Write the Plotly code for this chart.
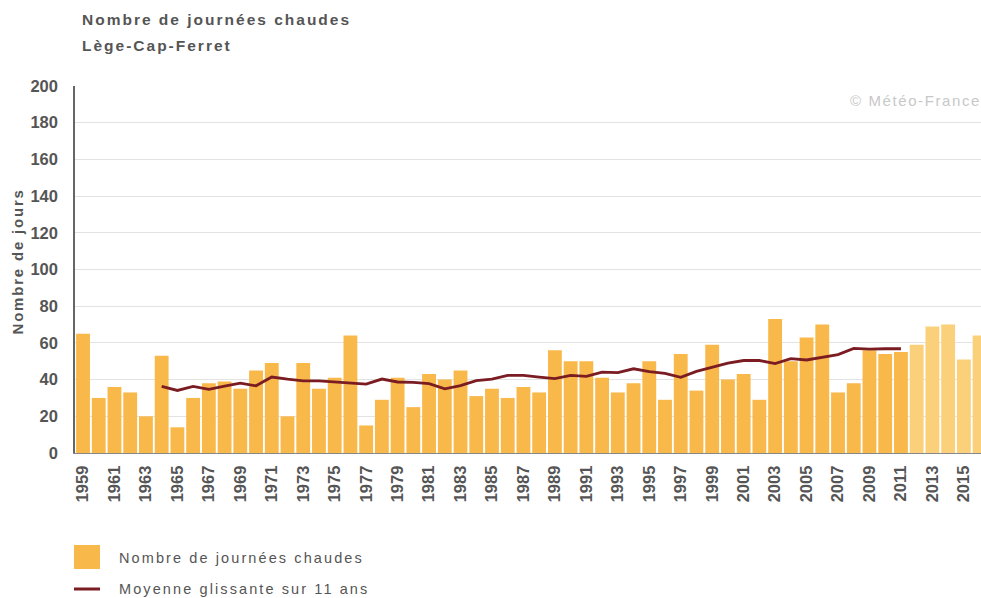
import plotly.graph_objects as go

years = list(range(1959, 2017))
hot_days = [65, 30, 36, 33, 20, 53, 14, 30, 38, 39,
            35, 45, 49, 20, 49, 35, 41, 64, 15, 29,
            41, 25, 43, 40, 45, 31, 35, 30, 36, 33,
            56, 50, 50, 41, 33, 38, 50, 29, 54, 34,
            59, 40, 43, 29, 73, 50, 63, 70, 33, 38,
            56, 54, 55, 59, 69, 70, 51, 64]
ma_years = list(range(1964, 2012))
ma_values = [36.3, 34.1, 36.3, 34.7, 36.5, 38.1, 36.6, 41.4, 40.2, 39.3,
             39.3, 38.8, 38.1, 37.5, 40.3, 38.7, 38.5, 37.8, 35.0, 36.7,
             39.4, 40.3, 42.3, 42.3, 41.4, 40.5, 42.3, 41.8, 44.1, 43.8,
             45.9, 44.3, 43.4, 41.2, 44.5, 46.6, 49.0, 50.4, 50.4, 48.7,
             51.4, 50.7, 52.3, 53.6, 57.0, 56.6, 56.8, 56.8]
last_ma_year = 2011
tick_years = years[::2]
y_ticks = list(range(0, 201, 20))

BAR = "#F9B84A"
BAR_LIGHT = "#FBD07A"
LINE = "#7A1C22"
TXT = "#555555"
FONT = "Liberation Sans, Arial, sans-serif"

colors = [BAR if y <= last_ma_year else BAR_LIGHT for y in years]

fig = go.Figure()
fig.add_trace(go.Bar(x=years, y=hot_days, marker=dict(color=colors, line=dict(width=0)),
                     name="Nombre de journées chaudes", showlegend=False))
fig.add_trace(go.Scatter(x=ma_years, y=ma_values, mode="lines",
                         line=dict(color=LINE, width=2.8), name="Moyenne glissante sur 11 ans",
                         showlegend=False))

W, H = 981, 598
L, R, T, B = 75, 0, 86, 145
pw, ph = W - L - R, H - T - B

def px(x):
    return (x - L) / pw

def py(y):
    return (H - B - y) / ph

def spaced(t, s):
    return '<span style="letter-spacing:%spx">%s</span>' % (s, t)

tick_font = dict(family=FONT, size=16.5, color=TXT, weight="bold")

fig.update_layout(
    width=W, height=H,
    margin=dict(l=L, r=R, t=T, b=B, pad=0),
    plot_bgcolor="white", paper_bgcolor="white",
    bargap=0.12,
    font=dict(family=FONT, color=TXT, size=13),
    xaxis=dict(range=[1958.49, 2016.09], tickmode="array", tickvals=tick_years,
               ticktext=[str(y) for y in tick_years], tickangle=-90,
               tickfont=tick_font,
               showgrid=False, showline=True, linecolor="#888888", linewidth=1,
               ticks="", ticklabelstandoff=5, zeroline=False),
    yaxis=dict(range=[0, 200], tickmode="array", tickvals=y_ticks,
               tickfont=tick_font,
               showgrid=True, gridcolor="#E3E3E3", gridwidth=1,
               showline=True, linecolor="#666666", linewidth=1.5,
               ticks="", ticklabelstandoff=12, zeroline=False),
)

left_annos = [
    dict(text="<b>" + spaced("Nombre de journées chaudes", 2.0) + "</b>", x=px(80), y=py(19),
         font=dict(family=FONT, size=15.5, color=TXT)),
    dict(text="<b>" + spaced("Lège-Cap-Ferret", 2.0) + "</b>", x=px(80), y=py(45),
         font=dict(family=FONT, size=15.5, color=TXT)),
    dict(text=spaced("Nombre de journées chaudes", 2.1), x=px(117), y=py(558),
         font=dict(family=FONT, size=14.5, color=TXT)),
    dict(text=spaced("Moyenne glissante sur 11 ans", 2.1), x=px(117), y=py(589),
         font=dict(family=FONT, size=14.5, color=TXT)),
]
for a in left_annos:
    fig.add_annotation(xref="paper", yref="paper", xanchor="left", yanchor="middle",
                       showarrow=False, **a)
fig.add_annotation(xref="paper", yref="paper", xanchor="center", yanchor="middle",
                   x=px(16.5), y=py(262), textangle=-90,
                   text="<b>" + spaced("Nombre de jours", 1.8) + "</b>",
                   showarrow=False, font=dict(family=FONT, size=15, color=TXT))
fig.add_annotation(xref="paper", yref="paper", xanchor="right", yanchor="middle",
                   x=px(983), y=py(100), text=spaced("© Météo-France", 1.6), showarrow=False,
                   font=dict(family=FONT, size=15, color="#C8C8C8"))

fig.add_shape(type="rect", xref="paper", yref="paper", x0=px(74), x1=px(100),
              y0=py(545), y1=py(569), fillcolor=BAR, line=dict(width=0))
fig.add_shape(type="line", xref="paper", yref="paper", x0=px(74), x1=px(100),
              y0=py(589), y1=py(589), line=dict(color=LINE, width=3))

fig.write_html("out.html",
               config={"displayModeBar": False},
               post_script="document.body.style.margin='0';"
                           "document.documentElement.style.overflow='hidden';"
                           "document.body.style.overflow='hidden';")
